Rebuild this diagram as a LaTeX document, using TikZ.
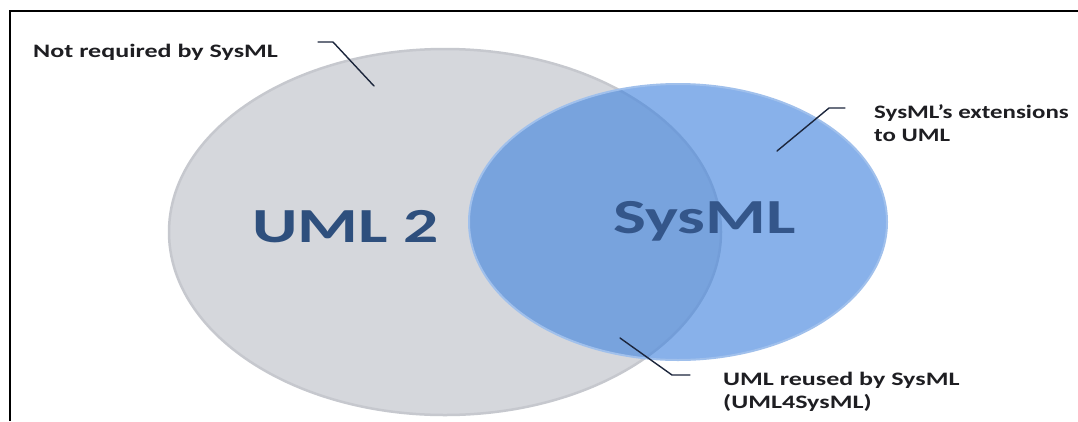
\documentclass[tikz,border=0pt]{standalone}
\usepackage{fontspec}
\setmainfont{Carlito}
\definecolor{grayfill}{RGB}{213,215,220}
\definecolor{grayrim}{RGB}{198,200,206}
\definecolor{bluefill}{RGB}{67,133,222}
\definecolor{bluerim}{RGB}{160,192,236}
\definecolor{titleblue}{RGB}{46,79,125}
\definecolor{titleblue2}{RGB}{52,86,138}
\definecolor{leadcol}{RGB}{28,38,60}
\definecolor{notecol}{RGB}{30,30,34}
\begin{document}
\begin{tikzpicture}[x=1pt,y=-1pt,
  note/.style={anchor=base west,inner sep=0pt,text=notecol,font=\bfseries\fontsize{19}{23}\selectfont},
  title/.style={anchor=base west,inner sep=0pt,font=\bfseries\fontsize{49}{55}\selectfont},
  lead/.style={draw=leadcol,line width=1.4pt,line join=round,line cap=round},
  frame/.style={draw=black,line width=2.4pt}]
\useasboundingbox[fill=white] (0,0) rectangle (1078,421);
% sets
\path[fill=grayfill,draw=grayrim,line width=2.5pt] (445,232) ellipse [x radius=276pt, y radius=183pt];
\path[fill=bluefill,fill opacity=0.63,draw=bluerim,line width=2pt] (678,222) ellipse [x radius=209pt, y radius=138pt];
% titles
\node[title,text=titleblue] (uml) at (252,242) {\scalebox{1.42}[1]{UML 2}};
\node[title,text=titleblue2] (sysml) at (613,233) {\scalebox{1.42}[1]{SysML}};
% annotations
\node[note] (notreq) at (33,57) {\scalebox{1.37}[1]{Not required by SysML}};
\node[note] (ext) at (874,118) {\scalebox{1.31}[1]{\begin{tabular}[t]{@{}l@{}}SysML's extensions\\to UML\end{tabular}}};
\node[note] (reuse) at (723,385) {\scalebox{1.37}[1]{\begin{tabular}[t]{@{}l@{}}UML reused by SysML\\(UML4SysML)\end{tabular}}};
% leader lines
\coordinate (a1) at (318,42); \coordinate (a2) at (333,42); \coordinate (a3) at (374,86);
\coordinate (b1) at (845,108); \coordinate (b2) at (829,108); \coordinate (b3) at (777,151);
\coordinate (c1) at (690,375); \coordinate (c2) at (672,375); \coordinate (c3) at (620,338);
\draw[lead] (a1) -- (a2) -- (a3);
\draw[lead] (b1) -- (b2) -- (b3);
\draw[lead] (c1) -- (c2) -- (c3);
% frame
\draw[frame] (10,421) -- (10,11) -- (1078,11);
\end{tikzpicture}
\end{document}
